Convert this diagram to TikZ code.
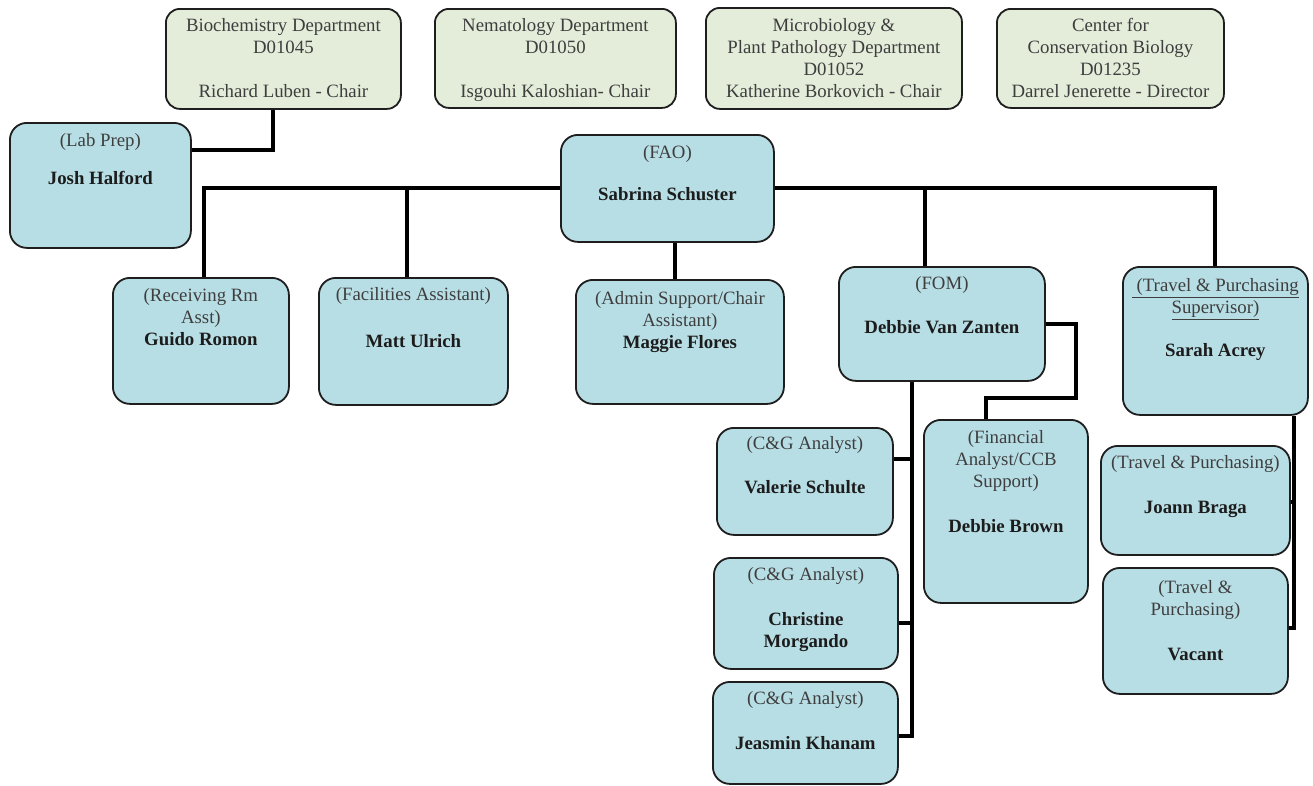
\documentclass[tikz,border=0pt]{standalone}
\usepackage{fontspec}
\setmainfont{Liberation Serif}
\usetikzlibrary{backgrounds}
\definecolor{deptgreen}{RGB}{228,237,218}
\definecolor{staffblue}{RGB}{184,222,229}
\definecolor{rolegray}{RGB}{62,62,62}
\definecolor{namedark}{RGB}{28,28,28}
\definecolor{edgedark}{RGB}{30,30,30}
\newcommand{\boxlines}[1]{\begin{tabular}[t]{@{}c@{}}#1\end{tabular}}
\newcommand{\rolet}[1]{{\color{rolegray}#1}}
\newcommand{\namet}[1]{{\color{namedark}\bfseries #1}}
\tikzset{
  orgbox/.style={draw=edgedark, line width=1.8pt, anchor=north west,
    inner xsep=2pt, inner ysep=0pt, minimum height=0pt,
    font=\fontsize{18.8pt}{22pt}\selectfont},
  dept/.style={orgbox, fill=deptgreen, rounded corners=14pt, text=rolegray},
  staff/.style={orgbox, fill=staffblue, rounded corners=17pt},
  conn/.style={line width=4pt, black, line join=miter}
}
\begin{document}
\begin{tikzpicture}[x=1pt,y=-1pt]
\useasboundingbox (0,0) rectangle (1313,785);

% department boxes
\node[dept, minimum width=235pt, text height=23pt, text depth=77pt] (bio) at (165,8)
  {\boxlines{Biochemistry Department\\D01045\\[22pt]Richard Luben - Chair}};
\node[dept, minimum width=241pt, text height=23pt, text depth=76pt] (nem) at (434,8)
  {\boxlines{Nematology Department\\D01050\\[22pt]Isgouhi Kaloshian- Chair}};
\node[dept, minimum width=256pt, text height=24pt, text depth=77pt] (mic) at (705,7)
  {\boxlines{Microbiology \&\\Plant Pathology Department\\D01052\\Katherine Borkovich - Chair}};
\node[dept, minimum width=227pt, text height=23pt, text depth=76pt] (ccb) at (996,8)
  {\boxlines{Center for\\Conservation Biology\\D01235\\Darrel Jenerette - Director}};

% staff boxes
\node[staff, minimum width=181pt, text height=24pt, text depth=101pt] (josh) at (9,122)
  {\boxlines{\rolet{(Lab Prep)}\\[16pt]\namet{Josh Halford}}};
\node[staff, minimum width=213pt, text height=24pt, text depth=83pt] (sab) at (560,134)
  {\boxlines{\rolet{(FAO)}\\[20pt]\namet{Sabrina Schuster}}};
\node[staff, minimum width=176pt, text height=24pt, text depth=102pt] (guido) at (112,277)
  {\boxlines{\rolet{(Receiving Rm}\\\rolet{Asst)}\\\namet{Guido Romon}}};
\node[staff, minimum width=189pt, text height=23pt, text depth=104pt] (matt) at (318,277)
  {\boxlines{\rolet{(Facilities Assistant)}\\[25pt]\namet{Matt Ulrich}}};
\node[staff, minimum width=208pt, text height=25pt, text depth=99pt] (maggie) at (575,279)
  {\boxlines{\rolet{(Admin Support/Chair}\\\rolet{Assistant)}\\\namet{Maggie Flores}}};
\node[staff, minimum width=206pt, text height=23pt, text depth=91pt] (dvz) at (838,266)
  {\boxlines{\rolet{(FOM)}\\[22pt]\namet{Debbie Van Zanten}}};
\node[staff, minimum width=185pt, text height=25pt, text depth=123pt] (sarah) at (1122,266)
  {\boxlines{\rolet{\underline{\ (Travel \& Purchasing}}\\\rolet{\underline{Supervisor)}}\\[21pt]\namet{Sarah Acrey}}};
\node[staff, minimum width=176pt, text height=22pt, text depth=85pt] (valerie) at (716,427)
  {\boxlines{\rolet{(C\&G Analyst)}\\[22pt]\namet{Valerie Schulte}}};
\node[staff, minimum width=184pt, text height=23pt, text depth=88pt] (christine) at (713,557)
  {\boxlines{\rolet{(C\&G Analyst)}\\[23pt]\namet{Christine}\\\namet{Morgando}}};
\node[staff, minimum width=185pt, text height=23pt, text depth=79pt] (jeasmin) at (712,681)
  {\boxlines{\rolet{(C\&G Analyst)}\\[23pt]\namet{Jeasmin Khanam}}};
\node[staff, minimum width=164pt, text height=24pt, text depth=159pt] (dbrown) at (923,419)
  {\boxlines{\rolet{(Financial}\\\rolet{Analyst/CCB}\\\rolet{Support)}\\[23pt]\namet{Debbie Brown}}};
\node[staff, minimum width=189pt, text height=23pt, text depth=86pt] (joann) at (1100,445)
  {\boxlines{\rolet{(Travel \& Purchasing)}\\[23pt]\namet{Joann Braga}}};
\node[staff, minimum width=185pt, text height=26pt, text depth=100pt] (vacant) at (1102,567)
  {\boxlines{\rolet{(Travel \&}\\\rolet{Purchasing)}\\[23pt]\namet{Vacant}}};

% junction coordinates
\coordinate (bj) at (273,150);
\coordinate (gj) at (204,188);
\coordinate (mj) at (407,188);
\coordinate (aj) at (675,188);
\coordinate (fj) at (925,188);
\coordinate (dr) at (1076,398);
\coordinate (db) at (986,398);
\coordinate (jv) at (912,459);
\coordinate (jc) at (912,623);
\coordinate (jj) at (912,736);
\coordinate (rj) at (1294,502);
\coordinate (rv) at (1294,628);

\begin{scope}[on background layer]
\fill[white] (0,0) rectangle (1313,785);
\draw[conn] (bio.south -| bj) -- (bj) -- (josh.east |- bj);
\draw[conn] (sab.west) -| (guido.north -| gj);
\draw[conn] (mj) -- (matt.north -| mj);
\draw[conn] (sab.south -| aj) -- (maggie.north -| aj);
\draw[conn] (sab.east) -| (sarah.north);
\draw[conn] (fj) -- (dvz.north -| fj);
\draw[conn] (dvz.east) -| (dr) -- (db) -- (dbrown.north -| db);
\draw[conn] (dvz.south -| jv) -- (jj) -- (jeasmin.east |- jj);
\draw[conn] (jv) -- (valerie.east |- jv);
\draw[conn] (jc) -- (christine.east |- jc);
\draw[conn] (sarah.south -| rj) -- (rv) -- (vacant.east |- rv);
\draw[conn] (rj) -- (joann.east |- rj);
\end{scope}
\end{tikzpicture}
\end{document}
